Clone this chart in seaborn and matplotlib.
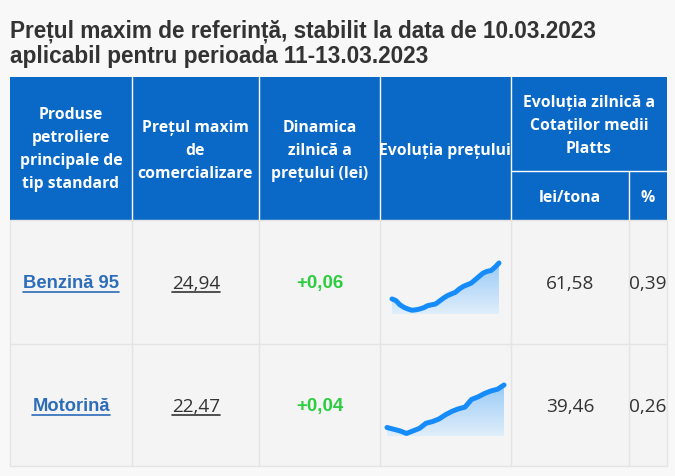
import numpy as np
import matplotlib.pyplot as plt
import seaborn as sns
from matplotlib.patches import Rectangle, Polygon
from matplotlib.colors import LinearSegmentedColormap

sns.set_theme(style="white")

# date
titlu = ["Prețul maxim de referință, stabilit la data de 10.03.2023",
         "aplicabil pentru perioada 11-13.03.2023"]
produse = ["Benzină 95", "Motorină"]
pret_maxim = ["24,94", "22,47"]
dinamica = ["+0,06", "+0,04"]
platts_lei = ["61,58", "39,46"]
platts_proc = ["0,39", "0,26"]

evolutie_benzina = [24.08, 24.04, 23.94, 23.88, 23.84, 23.81, 23.82, 23.84, 23.87, 23.92,
                    23.94, 23.96, 24.03, 24.10, 24.16, 24.20, 24.24, 24.32, 24.38, 24.42,
                    24.46, 24.54, 24.62, 24.70, 24.74, 24.76, 24.84, 24.94]
evolutie_motorina = [21.47, 21.43, 21.39, 21.33, 21.39, 21.45, 21.57, 21.61, 21.67, 21.77,
                     21.85, 21.91, 21.95, 22.13, 22.19, 22.27, 22.33, 22.37, 22.47]
evolutii = [evolutie_benzina, evolutie_motorina]
baza = [23.72, 21.27]

W, H = 675, 477
fig = plt.figure(figsize=(W / 100, H / 100), dpi=100)
fig.patch.set_facecolor("#f8f8f8")
ax = fig.add_axes([0, 0, 1, 1])
ax.set_xlim(0, W)
ax.set_ylim(H, 0)
ax.axis("off")

albastru = "#0a69c7"
fundal = "#f4f4f4"
linie = "#e4e4e4"
px = 0.72  # pixeli -> puncte

# titlu
for i, t in enumerate(titlu):
    ax.text(10, 31 + i * 25, t, fontsize=22.6 * px, fontweight="bold", color="#333333",
            family="Liberation Sans", va="center", ha="left")

cols = [10, 132, 259, 380, 511, 629, 667]
top, sub, hbot, r1, bot = 78, 172, 221, 345, 467

# antet
ax.add_patch(Rectangle((cols[0], top), cols[-1] - cols[0], hbot - top, color=albastru, lw=0))
for x in cols[1:-1]:
    y0 = sub if x == 629 else top
    ax.plot([x, x], [y0, hbot], color="white", lw=1)
ax.plot([511, 667], [sub, sub], color="white", lw=1)

# corp
ax.add_patch(Rectangle((cols[0], hbot), cols[-1] - cols[0], bot - hbot,
                       facecolor=fundal, edgecolor=linie, lw=1))
for x in cols[1:-1]:
    ax.plot([x, x], [hbot, bot], color=linie, lw=1)
ax.plot([cols[0], cols[-1]], [r1, r1], color=linie, lw=1)

hfont = dict(fontsize=15.8 * px, fontweight="bold", color="white", family="Open Sans",
             ha="center", va="center")
antet = [
    (71, ["Produse", "petroliere", "principale de", "tip standard"], 115),
    (195, ["Prețul maxim", "de", "comercializare"], 128),
    (320, ["Dinamica", "zilnică a", "prețului (lei)"], 128),
    (445, ["Evoluția prețului"], 151),
    (589, ["Evoluția zilnică a", "Cotaților medii", "Platts"], 103),
    (570, ["lei/tona"], 198),
    (648, ["%"], 198),
]
for xc, linii, y0 in antet:
    for j, l in enumerate(linii):
        ax.text(xc, y0 + j * 23, l, **hfont)

centre_y = [284, 407]
sublinieri = []
for i in range(2):
    yc = centre_y[i]
    t1 = ax.text(71, yc, produse[i], fontsize=18.4 * px, fontweight="bold", color="#2c6cb8",
                 family="Liberation Sans", ha="center", va="center")
    t2 = ax.text(196, yc, pret_maxim[i], fontsize=19 * px, color="#333333",
                 family="Open Sans", ha="center", va="center")
    ax.text(320, yc, dinamica[i], fontsize=18.8 * px, fontweight="bold", color="#2ecc40",
            family="Liberation Sans", ha="center", va="center")
    ax.text(570, yc, platts_lei[i], fontsize=19 * px, color="#333333",
            family="Open Sans", ha="center", va="center")
    ax.text(648, yc, platts_proc[i], fontsize=19 * px, color="#333333",
            family="Open Sans", ha="center", va="center")
    sublinieri.append((t1, "#2c6cb8", yc + 9))
    sublinieri.append((t2, "#333333", yc + 8.5))

# sublinieri
fig.canvas.draw()
rend = fig.canvas.get_renderer()
inv = ax.transData.inverted()
for t, c, yl in sublinieri:
    bb = t.get_window_extent(rend)
    xa = inv.transform((bb.x0, 0))[0]
    xb = inv.transform((bb.x1, 0))[0]
    ax.plot([xa, xb], [yl, yl], color=c, lw=1.2)

# grafice de evolutie
cmap = LinearSegmentedColormap.from_list("g", ["#dfeefb", "#9acbf6"])
pozitii = [(392, 264, 499, 315), (387, 386, 504, 437)]
for i in range(2):
    x0, y0, x1, y1 = pozitii[i]
    sax = fig.add_axes([x0 / W, 1 - y1 / H, (x1 - x0) / W, (y1 - y0) / H])
    vals = evolutii[i]
    xs = np.arange(len(vals))
    sax.set_xlim(0, len(vals) - 1)
    sax.set_ylim(baza[i], max(vals))
    grad = sax.imshow(np.linspace(0, 1, 100).reshape(-1, 1), cmap=cmap, aspect="auto",
                      extent=[0, len(vals) - 1, baza[i], max(vals)], origin="lower", zorder=1)
    poly = Polygon(np.column_stack([np.r_[xs, xs[-1], 0], np.r_[vals, baza[i], baza[i]]]),
                   closed=True, facecolor="none", edgecolor="none")
    sax.add_patch(poly)
    grad.set_clip_path(poly)
    sns.lineplot(x=xs, y=vals, ax=sax, color="#168cfb", lw=3.6, zorder=3, clip_on=False)
    sax.axis("off")

fig.savefig("out.png", dpi=100, facecolor=fig.get_facecolor())
